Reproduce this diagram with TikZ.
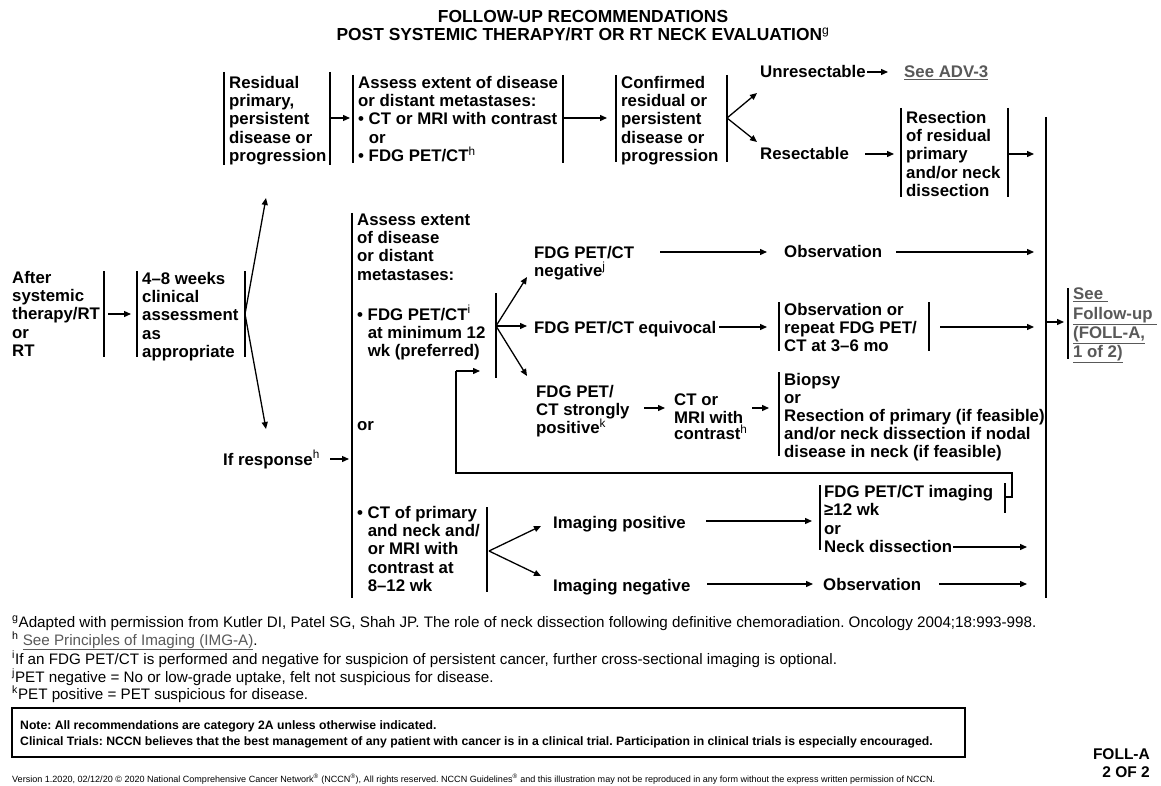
\documentclass[tikz,border=0pt]{standalone}
\usepackage{fontspec}
\setmainfont{Liberation Sans}
\usetikzlibrary{arrows.meta}
\definecolor{linkgray}{HTML}{595959}
\newcommand\mf{\fontsize{16.8}{18.3}\selectfont\bfseries}
\newcommand\ff{\fontsize{15.2}{18}\selectfont}
\newcommand\fs[1]{\smash{\textsuperscript{\mdseries #1}}}
\newcommand\lnk[1]{\textcolor{linkgray}{\underline{#1}}}
\frenchspacing
\begin{document}
\begin{tikzpicture}[x=1pt,y=-1pt,
  mtxt/.style={anchor=north west, inner sep=0pt, align=left, font=\mf, yshift=6.8pt},
  stxt/.style={anchor=base west, inner sep=0pt, font=\mf, yshift=-6pt},
  fnote/.style={anchor=base west, inner sep=0pt, font=\ff},
  bar/.style={line width=1.5pt},
  arr/.style={line width=1.3pt, -{Triangle[length=7pt,width=6pt]}},
  loopline/.style={line width=1.3pt}]
\useasboundingbox (0,0) rectangle (1161,786);
\fill[white] (0,0) rectangle (1161,786);

% ---------- title
\node[anchor=base, inner sep=0pt, font=\fontsize{17.4}{20}\selectfont\bfseries] (t1) at (583,23) {FOLLOW-UP RECOMMENDATIONS};
\node[anchor=base, inner sep=0pt, font=\fontsize{17.4}{20}\selectfont\bfseries] (t2) at (583,41) {POST SYSTEMIC THERAPY/RT OR RT NECK EVALUATION\textsuperscript{\mdseries g}};

% ---------- coordinates for connectors
\foreach \n/\x/\y in {p1/108/314, p2/131/314, p3/245/314, p4/266/198, p5/266/429,
  p6/331/118, p7/350/118, p8/563/118, p9/607/118, p10/727/118, p11/757/93, p12/757/142,
  p13/867/72, p14/888/72, p15/865/154, p16/894/154, p17/1008/154, p18/1034/154,
  p19/330/459, p20/349/459, p21/496/326, p22/527/277, p23/527/326, p24/527/376,
  p25/660/252, p26/767/252, p27/896/252, p28/1034/252, p29/719/327, p30/767/327,
  p31/940/327, p32/1034/327, p33/644/408, p34/665/408, p35/752/408, p36/769/408,
  p37/1046/322, p38/1064/322, q1/1005/497, q2/1012/497, q3/1012/473, q4/456/473,
  q5/456/371, q6/480/371, p39/489/551, p40/541/526, p41/541/576, p42/706/521,
  p43/812/521, p44/953/547, p45/1027/547, p46/707/584, p47/813/584, p48/939/584,
  p49/1027/584}
  \coordinate (\n) at (\x,\y);

% ---------- bracket bars
\foreach \x/\a/\b in {104/271/357, 137/271/357, 245/271/357, 224/72/165, 330/72/165,
  353/75/163, 563/75/163, 616/75/162, 727/75/162, 901/108/197, 1008/108/197,
  1046/117/598, 352/213/598, 496/293/378, 779/302/351, 929/302/351, 779/372/456,
  1068/288/359, 487/507/592, 820/485/550, 1005/483/513}
  \draw[bar] (\x,\a) -- (\x,\b);

% ---------- left
\node[mtxt] (after) at (12,277) {\strut After\\systemic\\therapy/RT\\or\\RT};
\node[mtxt] (weeks) at (142,278) {\strut 4–8 weeks\\clinical\\assessment\\as\\appropriate};

% ---------- top row
\node[mtxt] (resid) at (229,82) {\strut Residual\\primary,\\persistent\\disease or\\progression};
\node[mtxt] (assess1) at (358,82) {\strut Assess extent of disease\\or distant metastases:\\• CT or MRI with contrast\\\hphantom{• }or\\• FDG PET/CT\fs{h}};
\node[mtxt] (confirm) at (621,82) {\strut Confirmed\\residual or\\persistent\\disease or\\progression};
\node[stxt] (unres) at (760,72) {Unresectable};
\node[stxt, text=linkgray] (adv) at (904,72) {\lnk{See ADV-3}};
\node[stxt] (resec) at (760,154) {Resectable};
\node[mtxt] (resection) at (906,117) {\strut Resection\\of residual\\primary\\and/or neck\\dissection};

% ---------- middle
\node[mtxt] (assess2) at (357,219) {\strut Assess extent\\of disease\\or distant\\metastases:};
\node[mtxt] (fdg) at (357,314) {\strut • FDG PET/CT\fs{i}\\\hphantom{• }at minimum 12\\\hphantom{• }wk (preferred)};
\node[stxt] (or1) at (357,424) {or};
\node[stxt] (ifresp) at (223,459) {If response\fs{h}};
\node[mtxt] (ctprim) at (357,512) {\strut • CT of primary\\\hphantom{• }and neck and/\\\hphantom{• }or MRI with\\\hphantom{• }contrast at\\\hphantom{• }8–12 wk};

\node[mtxt] (neg) at (534,252) {\strut FDG PET/CT\\negative\fs{j}};
\node[stxt] (obs1) at (784,252) {Observation};
\node[stxt] (equiv) at (534,327) {FDG PET/CT equivocal};
\node[mtxt] (obsrep) at (784,309) {\strut Observation or\\repeat FDG PET/\\CT at 3–6 mo};
\node[mtxt] (strong) at (536,391) {\strut FDG PET/\\CT strongly\\positive\fs{k}};
\node[mtxt, font=\fontsize{16.8}{16.6}\selectfont\bfseries] (ctmri) at (674,400) {\strut CT or\\MRI with\\contrast\fs{h}};
\node[mtxt, font=\fontsize{16.8}{18}\selectfont\bfseries] (biopsy) at (784,379) {\strut Biopsy\\or\\Resection of primary (if feasible)\\and/or neck dissection if nodal\\disease in neck (if feasible)};
\node[mtxt, font=\fontsize{16.8}{19.3}\selectfont\bfseries, text=linkgray] (seefu) at (1073,293) {\strut \lnk{See\ }\\\lnk{Follow-up\ }\\\lnk{(FOLL-A,}\\\lnk{1 of 2)}};

% ---------- bottom
\node[stxt] (imgpos) at (553,522) {Imaging positive};
\node[stxt] (imgneg) at (553,585) {Imaging negative};
\node[mtxt, font=\fontsize{16.8}{18.5}\selectfont\bfseries] (fdgimg) at (824,491) {\strut FDG PET/CT imaging\\≥12 wk\\or\\Neck dissection};
\node[stxt] (obs2) at (823,584) {Observation};

% ---------- connectors
\foreach \s/\e in {p1/p2, p3/p4, p3/p5, p6/p7, p8/p9, p10/p11, p10/p12, p13/p14,
  p15/p16, p17/p18, p19/p20, p21/p22, p21/p23, p21/p24, p25/p26, p27/p28, p29/p30,
  p31/p32, p33/p34, p35/p36, p37/p38, p39/p40, p39/p41, p42/p43, p44/p45, p46/p47,
  p48/p49}
  \draw[arr] (\s) -- (\e);
\draw[loopline] (q1) -- (q2) -- (q3) -- (q4) -- (q5);
\draw[arr] (q5) -- (q6);

% ---------- footnotes
\node[fnote] (fng) at (12,627) {\textsuperscript{g}Adapted with permission from Kutler DI, Patel SG, Shah JP. The role of neck dissection following definitive chemoradiation. Oncology 2004;18:993-998.};
\node[fnote] (fnh) at (12,645) {\textsuperscript{h} \lnk{See Principles of Imaging (IMG-A)}.};
\node[fnote] (fni) at (12,664) {\textsuperscript{i}If an FDG PET/CT is performed and negative for suspicion of persistent cancer, further cross-sectional imaging is optional.};
\node[fnote] (fnj) at (12,682) {\textsuperscript{j}PET negative = No or low-grade uptake, felt not suspicious for disease.};
\node[fnote] (fnk) at (12,699) {\textsuperscript{k}PET positive = PET suspicious for disease.};

% ---------- note box
\draw[line width=1.3pt] (12,708) rectangle (965,757);
\node[anchor=base west, inner sep=0pt, font=\fontsize{12.2}{14}\selectfont\bfseries] (note1) at (20,729.5) {Note: All recommendations are category 2A unless otherwise indicated.};
\node[anchor=base west, inner sep=0pt, font=\fontsize{12.2}{14}\selectfont\bfseries] (note2) at (20,745.5) {Clinical Trials: NCCN believes that the best management of any patient with cancer is in a clinical trial. Participation in clinical trials is especially encouraged.};

% ---------- page id and version
\node[anchor=base east, inner sep=0pt, font=\fontsize{15.5}{18}\selectfont\bfseries] (pg1) at (1150,759.5) {FOLL-A};
\node[anchor=base east, inner sep=0pt, font=\fontsize{15.5}{18}\selectfont\bfseries] (pg2) at (1150,777.5) {2 OF 2};
\node[anchor=base west, inner sep=0pt, font=\fontsize{9.05}{10}\selectfont] (ver) at (12,782) {Version 1.2020, 02/12/20 © 2020 National Comprehensive Cancer Network\textsuperscript{®} (NCCN\textsuperscript{®}), All rights reserved. NCCN Guidelines\textsuperscript{®} and this illustration may not be reproduced in any form without the express written permission of NCCN.};
\end{tikzpicture}
\end{document}
